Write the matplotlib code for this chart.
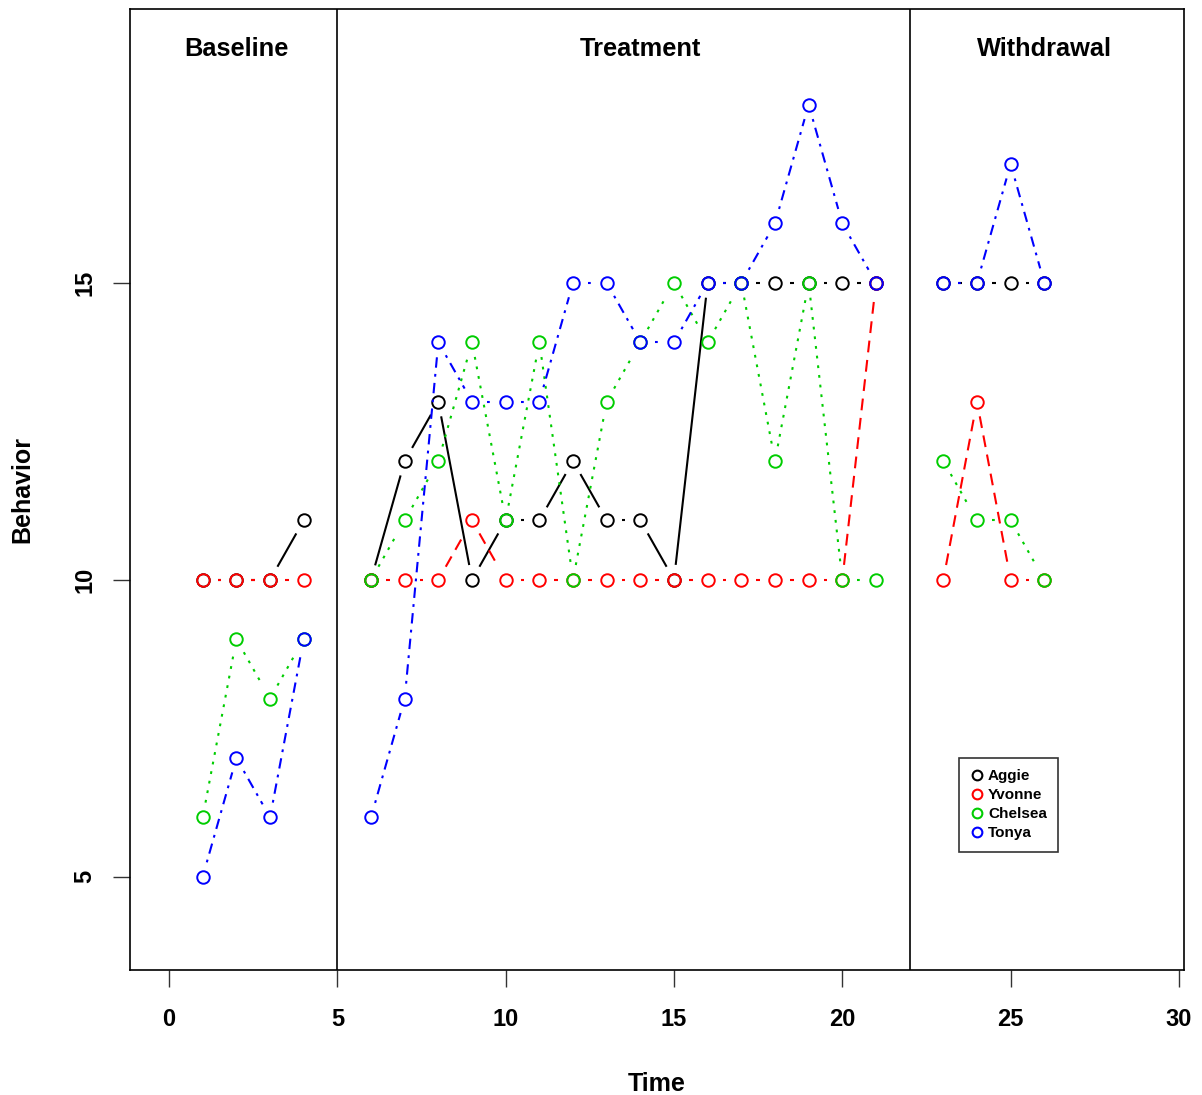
import numpy as np
import matplotlib
matplotlib.use("Agg")
import matplotlib.pyplot as plt
from matplotlib.lines import Line2D

plt.rcParams['font.family'] = ['Liberation Sans', 'DejaVu Sans']
plt.rcParams['font.weight'] = 'bold'
plt.rcParams['lines.scale_dashes'] = False

# ---- data ----
time = [1, 2, 3, 4, 6, 7, 8, 9, 10, 11, 12, 13, 14, 15, 16, 17, 18, 19, 20, 21, 23, 24, 25, 26]
phase = ['Baseline'] * 4 + ['Treatment'] * 16 + ['Withdrawal'] * 4
aggie   = [10, 10, 10, 11, 10, 12, 13, 10, 11, 11, 12, 11, 11, 10, 15, 15, 15, 15, 15, 15, 15, 15, 15, 15]
yvonne  = [10, 10, 10, 10, 10, 10, 10, 11, 10, 10, 10, 10, 10, 10, 10, 10, 10, 10, 10, 15, 10, 13, 10, 10]
chelsea = [6, 9, 8, 9, 10, 11, 12, 14, 11, 14, 10, 13, 14, 15, 14, 15, 12, 15, 10, 10, 12, 11, 11, 10]
tonya   = [5, 7, 6, 9, 6, 8, 14, 13, 13, 13, 15, 15, 14, 14, 15, 15, 16, 18, 16, 15, 15, 15, 17, 15]
names = ['Aggie', 'Yvonne', 'Chelsea', 'Tonya']
phase_names = ['Baseline', 'Treatment', 'Withdrawal']
phase_label_x = [2, 14, 26]
phase_breaks = [5, 22]
xticks = [0, 5, 10, 15, 20, 25, 30]
yticks = [5, 10, 15]

series = [aggie, yvonne, chelsea, tonya]
colors = ['black', '#FF0000', '#00CD00', '#0000FF']
styles = ['-', (0, (8.5, 5.5)), (0, (2, 5)), (0, (2, 4.5, 7.5, 4.5))]

W, H = 1202, 1095
fig = plt.figure(figsize=(W / 100, H / 100), dpi=100)
ax = fig.add_axes([130 / W, 1 - 970 / H, (1184 - 130) / W, (970 - 9) / H])
ax.set_xlim(-1.16, 30.15)
ax.set_ylim(3.43, 19.61)

GAP = 15.0  # pixels gap around points (R type="b")
LW = 1.5

fig.canvas.draw()
trans = ax.transData
inv = trans.inverted()

for vals, col, ls in zip(series, colors, styles):
    t = np.array(time, float)
    v = np.array(vals, float)
    ph = np.array(phase)
    for pname in phase_names:
        m = ph == pname
        tx, vy = t[m], v[m]
        pts = trans.transform(np.column_stack([tx, vy]))
        for i in range(len(pts) - 1):
            p0, p1 = pts[i], pts[i + 1]
            d = p1 - p0
            L = np.hypot(*d)
            if L <= 2 * GAP:
                continue
            u = d / L
            a = inv.transform(p0 + u * GAP)
            b = inv.transform(p1 - u * GAP)
            ax.add_line(Line2D([a[0], b[0]], [a[1], b[1]], color=col, lw=LW,
                               linestyle=ls, solid_capstyle='butt', dash_capstyle='butt'))
        ax.plot(tx, vy, linestyle='none', marker='o', markersize=9,
                markerfacecolor='none', markeredgecolor=col, markeredgewidth=1.4)

for xb in phase_breaks:
    ax.axvline(xb, color='black', lw=1.2)

for name, lx in zip(phase_names, phase_label_x):
    ax.text(lx, 18.93, name, ha='center', va='center', fontsize=18.3, fontweight='bold')

ax.set_xticks(xticks)
ax.set_yticks(yticks)
ax.set_xticklabels([str(x) for x in xticks], fontsize=17, fontweight='bold')
ax.set_yticklabels([str(y) for y in yticks], fontsize=17, fontweight='bold',
                   rotation=90, va='center')
ax.tick_params(axis='both', length=12, width=1.0, color='#333333')
ax.tick_params(axis='x', pad=15)
ax.tick_params(axis='y', pad=12)
for s in ax.spines.values():
    s.set_linewidth(1.2)

ax.set_xlabel('Time', fontsize=18, fontweight='bold', labelpad=30)
ax.set_ylabel('Behavior', fontsize=18, fontweight='bold', labelpad=28)

handles = [Line2D([], [], linestyle='none', marker='o', markersize=7,
                  markerfacecolor='none', markeredgecolor=c, markeredgewidth=1.5)
           for c in colors]
leg = ax.legend(handles, names, loc='upper left',
                bbox_to_anchor=((959 - 130) / (1184 - 130), 1 - (758 - 9) / (970 - 9)),
                fontsize=11, frameon=True, fancybox=False, edgecolor='black',
                handlelength=0.8, handletextpad=0.35, borderpad=0.75, labelspacing=0.32,
                borderaxespad=0)
leg.get_frame().set_linewidth(1.2)
for t_ in leg.get_texts():
    t_.set_fontweight('bold')

fig.savefig('out.png', dpi=100)
